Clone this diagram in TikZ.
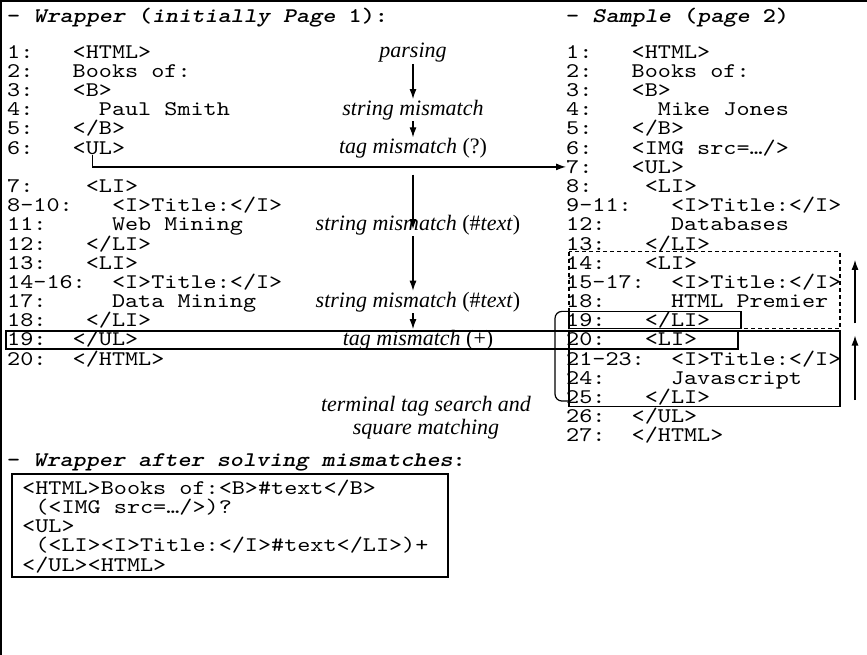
\documentclass[tikz,border=0pt]{standalone}
\usepackage{fontspec}
\setmainfont{Liberation Serif}
\setmonofont{lmmono10-regular.otf}[FakeStretch=1.2,
  ItalicFont=lmmono10-italic.otf, BoldFont=lmmonolt10-bold.otf,
  BoldItalicFont=lmmonolt10-boldoblique.otf]
\usetikzlibrary{arrows.meta,positioning}

\tikzset{
  code/.style={anchor=base west, inner sep=0pt, font=\ttfamily\fontsize{20.8}{19.2}\selectfont},
  headline/.style={anchor=base west, inner sep=0pt, font=\ttfamily\bfseries\fontsize{20.8}{19.2}\selectfont},
  stage/.style={anchor=base, inner sep=1pt, font=\itshape\fontsize{22}{23}\selectfont},
  flow/.style={line width=1.2pt, -{Latex[length=10pt,width=7pt]}},
  box/.style={line width=1.2pt},
}

\begin{document}
\begin{tikzpicture}[x=1pt, y=-1pt, declare function={ly(\n)=52+(\n-1)*19.17;}]
    \useasboundingbox (0,0) rectangle (867,655);
    \draw[line width=2pt] (1,655) -- (1,1) -- (867,1);

    % Wrapper (page 1)
    \node[headline] (whead) at (7,23) {- \textit{Wrapper} (\textit{initially Page} 1):};
    \foreach \row/\nr/\col/\txt in {1/1:/5/{<HTML>}, 2/2:/5/{Books of:}, 3/3:/5/{<B>},
        4/4:/7/{Paul Smith}, 5/5:/5/{</B>}, 6/6:/5/{<UL>}, 8/7:/6/{<LI>},
        9/8-10:/8/{<I>Title:</I>}, 10/11:/8/{Web Mining}, 11/12:/6/{</LI>},
        12/13:/6/{<LI>}, 13/14-16:/8/{<I>Title:</I>}, 14/17:/8/{Data Mining},
        15/18:/6/{</LI>}, 16/19:/5/{</UL>}, 17/20:/5/{</HTML>}} {
      \node[code] (wn\row) at (7,{ly(\row)+6.3}) {\nr};
      \node[code] (wc\row) at ({7+\col*13.1},{ly(\row)+6.3}) {\txt};
    }

    % Sample (page 2)
    \node[headline] (shead) at (566,23) {- \textit{Sample} (\textit{page} 2)};
    \foreach \row/\nr/\col/\txt in {1/1:/5/{<HTML>}, 2/2:/5/{Books of:}, 3/3:/5/{<B>},
        4/4:/7/{Mike Jones}, 5/5:/5/{</B>}, 6/6:/5/{<IMG src=…/>}, 7/7:/5/{<UL>},
        8/8:/6/{<LI>}, 9/9-11:/8/{<I>Title:</I>}, 10/12:/8/{Databases},
        11/13:/6/{</LI>}, 12/14:/6/{<LI>}, 13/15-17:/8/{<I>Title:</I>},
        14/18:/8/{HTML Premier}, 15/19:/6/{</LI>}, 16/20:/6/{<LI>},
        17/21-23:/8/{<I>Title:</I>}, 18/24:/8/{Javascript}, 19/25:/6/{</LI>},
        20/26:/5/{</UL>}, 21/27:/5/{</HTML>}} {
      \node[code] (sn\row) at (566,{ly(\row)+6.3}) {\nr};
      \node[code] (sc\row) at ({566+\col*13.1},{ly(\row)+6.3}) {\txt};
    }

    % steps
    \node[stage] (parse) at (413,{ly(1)+6}) {parsing};
    \node[stage] (str1) at (413,{ly(4)+6}) {string mismatch};
    \node[stage] (tag1) at (413,{ly(6)+6}) {tag mismatch \textup{(?)}};
    \node[stage] (str2) at (418,{ly(10)+6}) {string mismatch \textup{(\#}text\textup{)}};
    \node[stage] (str3) at (418,{ly(14)+6}) {string mismatch \textup{(\#}text\textup{)}};
    \node[stage] (tag2) at (418,{ly(16)+6}) {tag mismatch \textup{(+)}};
    \node[stage, anchor=center, align=center] (term) at (426,418) {terminal tag search and\\square matching};

    \draw[flow] (parse.south) -- (parse.south |- str1.north);
    \draw[flow] (str1.south) -- (str1.south |- tag1.north);
    \draw[flow] ([yshift=-15pt]tag1.south) -- ([yshift=-15pt]tag1.south |- str2.north);
    \draw[flow] (str2.south -| parse.south) -- (str3.north -| parse.south);
    \draw[flow] (str3.south -| parse.south) -- (tag2.north -| parse.south);
    \draw[flow] ([xshift=-6.5pt]wc6.south) |- (sn7.west);

    % squares
    \draw[box, dash pattern=on 4pt off 3pt] (569,{ly(12)-11}) rectangle (840,{ly(15)+8.5});
    \draw[box] (569,{ly(15)-9}) rectangle (741,{ly(15)+8.5});
    \draw[box] (6,{ly(16)-8.5}) rectangle (738,{ly(16)+9.5});
    \draw[box] (569,{ly(16)-8.5}) rectangle (840,{ly(19)+9.5});
    \coordinate (brtop) at (569,{ly(15)-9});
    \coordinate (brbot) at (569,{ly(19)+4});
    \draw[box, rounded corners=7pt] (brtop) -- ++(-14,0) |- (brbot);
    \coordinate (up1a) at (855,{ly(15)+3});
    \coordinate (up1b) at (855,{ly(12)-3});
    \coordinate (up2a) at (855,{ly(19)+3});
    \coordinate (up2b) at (855,{ly(16)-4});
    \draw[flow] (up1a) -- (up1b);
    \draw[flow] (up2a) -- (up2b);

    % final wrapper
    \node[headline] (fhead) at (7,466) {- \textit{Wrapper after solving mismatches}:};
    \foreach \i/\txt in {1/{<HTML>Books of:<B>\#text</B>}, 2/{~(<IMG src=…/>)?}, 3/{<UL>},
        4/{~(<LI><I>Title:</I>\#text</LI>)+}, 5/{</UL><HTML>}}
      \node[code] (fl\i) at (22,{488+(\i-1)*19.2+6.3}) {\txt};
    \draw[box] (12,474) rectangle (448,577);
\end{tikzpicture}
\end{document}
